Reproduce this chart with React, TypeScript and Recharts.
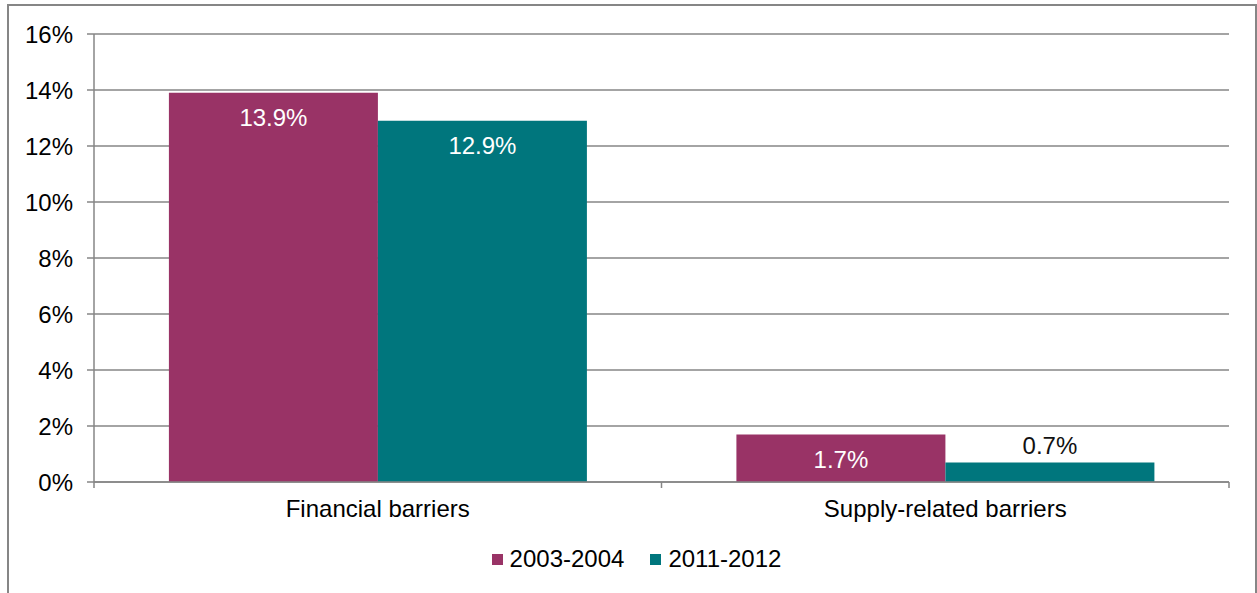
import React from 'react';
import {
  BarChart,
  Bar,
  XAxis,
  YAxis,
  CartesianGrid,
  LabelList,
} from 'recharts';

const categories = ['Financial barriers', 'Supply-related barriers'];
const period2003 = [13.9, 1.7];
const period2011 = [12.9, 0.7];
const yTicks = [0, 2, 4, 6, 8, 10, 12, 14, 16];
const seriesNames = ['2003-2004', '2011-2012'];
// category boundaries (integers) and category centres (halves)
const xTicks = [0, 0.5, 1, 1.5, 2];

const data = categories.map((name, i) => ({
  name,
  idx: i + 0.5,
  p2003: period2003[i],
  p2011: period2011[i],
}));

const GRAY = '#868686';
const MAGENTA = '#993366';
const TEAL = '#00767D';
const FONT = 24;

const BarLabel = (props: any) => {
  const { x, y, width, value } = props;
  const inside = value >= 1;
  return (
    <text
      x={x + width / 2}
      y={inside ? y + 25 : y - 8}
      textAnchor="middle"
      dominantBaseline={inside ? 'central' : 'auto'}
      fontSize={FONT}
      fill={inside ? '#ffffff' : '#111111'}
    >
      {`${value}%`}
    </text>
  );
};

const CategoryTick = (props: any) => {
  const { x, y, payload } = props;
  const v = payload.value as number;
  if (Number.isInteger(v)) {
    return <line x1={x} x2={x} y1={y} y2={y + 6} stroke={GRAY} strokeWidth={1.5} />;
  }
  return (
    <text x={x} y={y + 26} textAnchor="middle" dominantBaseline="central" fontSize={FONT} fill="#000">
      {categories[Math.floor(v)]}
    </text>
  );
};

const LegendBox = () => {
  const colors = [MAGENTA, TEAL];
  return (
    <div
      style={{
        position: 'absolute',
        top: 545,
        left: 0,
        width: 1257,
        display: 'flex',
        justifyContent: 'center',
        gap: 26,
        paddingLeft: 16,
        boxSizing: 'border-box',
      }}
    >
      {seriesNames.map((s, i) => (
        <div key={s} style={{ display: 'flex', alignItems: 'center', fontSize: FONT, color: '#000' }}>
          <span style={{ width: 11, height: 11, background: colors[i], display: 'inline-block', marginRight: 7 }} />
          {s}
        </div>
      ))}
    </div>
  );
};

export default function App() {
  return (
    <div
      style={{
        position: 'absolute',
        left: 0,
        top: 0,
        width: 1257,
        height: 593,
        overflow: 'hidden',
        background: '#fff',
        fontFamily: '"Liberation Sans", Arial, sans-serif',
      }}
    >
      <div
        style={{
          position: 'absolute',
          left: 7,
          top: 4,
          width: 1246,
          height: 620,
          border: `2px solid ${GRAY}`,
        }}
      />
      <div style={{ position: 'absolute', left: 0, top: 0 }}>
        <BarChart
          width={1257}
          height={593}
          data={data}
          margin={{ top: 34, right: 28, bottom: 0, left: 0 }}
          barCategoryGap="13.2%"
          barGap={0}
        >
          <CartesianGrid vertical={false} stroke={GRAY} strokeWidth={1.5} />
          <XAxis dataKey="name" hide height={0} />
          <XAxis
            xAxisId="edge"
            dataKey="idx"
            type="number"
            domain={[0, 2]}
            ticks={xTicks}
            interval={0}
            allowDataOverflow
            height={111}
            axisLine={{ stroke: GRAY, strokeWidth: 1.5 }}
            tickLine={false}
            tickSize={0}
            tickMargin={0}
            tick={<CategoryTick />}
          />
          <YAxis
            width={94}
            domain={[0, 16]}
            ticks={yTicks}
            interval={0}
            tickFormatter={(v: number) => `${v}%`}
            axisLine={{ stroke: GRAY, strokeWidth: 1.5 }}
            tickLine={{ stroke: GRAY, strokeWidth: 1.5 }}
            tickSize={7}
            tickMargin={14}
            tick={{ fontSize: FONT, fill: '#000' }}
          />
          <Bar dataKey="p2003" name={seriesNames[0]} fill={MAGENTA} isAnimationActive={false}>
            <LabelList dataKey="p2003" content={<BarLabel />} />
          </Bar>
          <Bar dataKey="p2011" name={seriesNames[1]} fill={TEAL} isAnimationActive={false}>
            <LabelList dataKey="p2011" content={<BarLabel />} />
          </Bar>
        </BarChart>
      </div>
      <LegendBox />
    </div>
  );
}
